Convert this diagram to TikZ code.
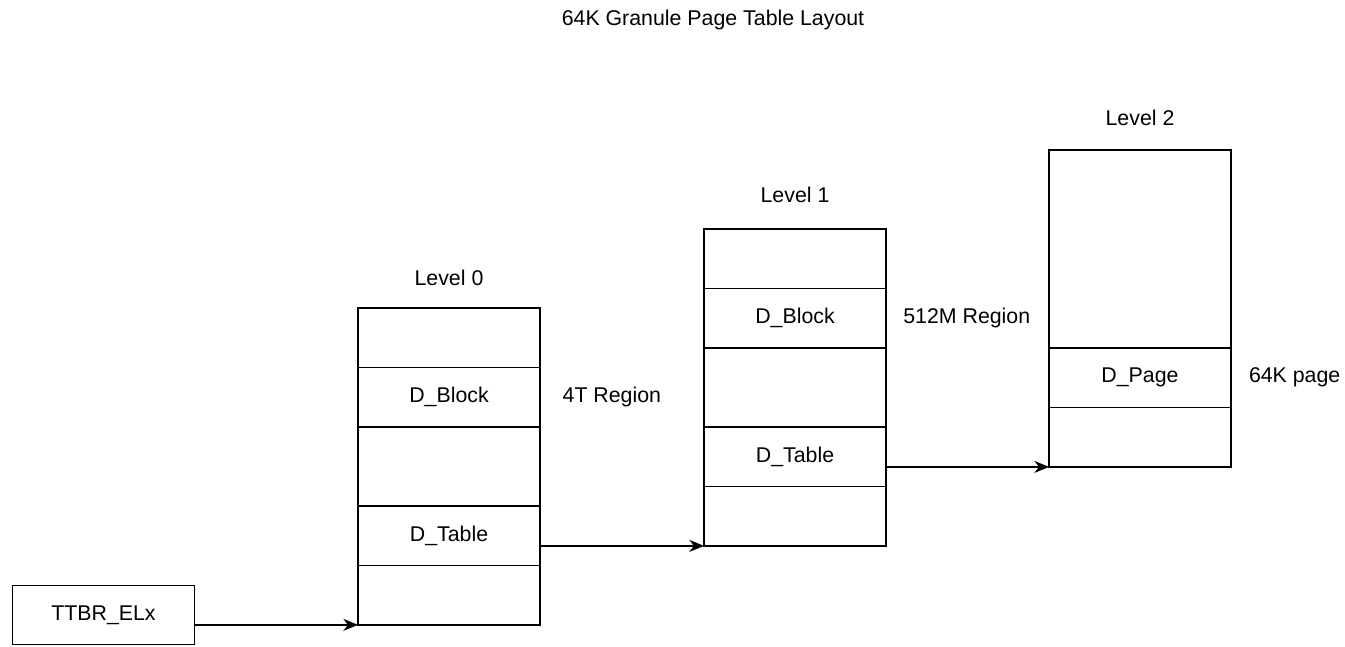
\documentclass[tikz,border=0pt]{standalone}
\usepackage{fontspec}
\setmainfont{Liberation Sans}
\usepackage{tikz}
\usetikzlibrary{arrows.meta,positioning}

\tikzset{
  cell/.style={draw, line width=1.1pt, minimum width=136.5pt, minimum height=44.6pt,
    inner sep=0pt, outer sep=0pt, font=\fontsize{16}{19}\selectfont},
  tallcell/.style={cell, minimum height=59.25pt},
  txt/.style={inner sep=0pt, outer sep=0pt, font=\fontsize{16}{19}\selectfont},
  link/.style={line width=1.1pt, -{Stealth[length=11pt,width=9pt,inset=3.5pt]}}
}

\begin{document}
\begin{tikzpicture}[x=0.75pt, y=-0.75pt]
  \useasboundingbox (0,0) rectangle (1345,646);

  % Title
  \node[txt] (title) at (713,20) {64K Granule Page Table Layout};

  % TTBR register
  \node[cell] (ttbr) at (103.5,615) {TTBR\_ELx};

  % Level 0 table
  \node[cell] (l0a) at (449,337.75) {};
  \node[cell, below=0pt of l0a] (l0b) {D\_Block};
  \node[tallcell, below=0pt of l0b] (l0c) {};
  \node[cell, below=0pt of l0c] (l0d) {D\_Table};
  \node[cell, below=0pt of l0d] (l0e) {};
  \node[txt, above=17pt of l0a] (l0lbl) {Level 0};
  \node[txt, right=17pt of l0b] (l0reg) {4T Region};

  % Level 1 table
  \node[cell] (l1a) at (795,258.75) {};
  \node[cell, below=0pt of l1a] (l1b) {D\_Block};
  \node[tallcell, below=0pt of l1b] (l1c) {};
  \node[cell, below=0pt of l1c] (l1d) {D\_Table};
  \node[cell, below=0pt of l1d] (l1e) {};
  \node[txt, above=20pt of l1a] (l1lbl) {Level 1};
  \node[txt, right=13pt of l1b] (l1reg) {512M Region};

  % Level 2 table
  \node[cell, minimum height=148.5pt] (l2a) at (1140,249) {};
  \node[cell, below=0pt of l2a] (l2b) {D\_Page};
  \node[cell, below=0pt of l2b] (l2c) {};
  \node[txt, above=18pt of l2a] (l2lbl) {Level 2};
  \node[txt, right=13.5pt of l2b] (l2reg) {64K page};

  % Links between levels
  \draw[link] (ttbr.east |- l0e.south west) -- (l0e.south west);
  \draw[link] (l0d.east |- l1e.south west) -- (l1e.south west);
  \draw[link] (l1d.east |- l2c.south west) -- (l2c.south west);
\end{tikzpicture}
\end{document}
